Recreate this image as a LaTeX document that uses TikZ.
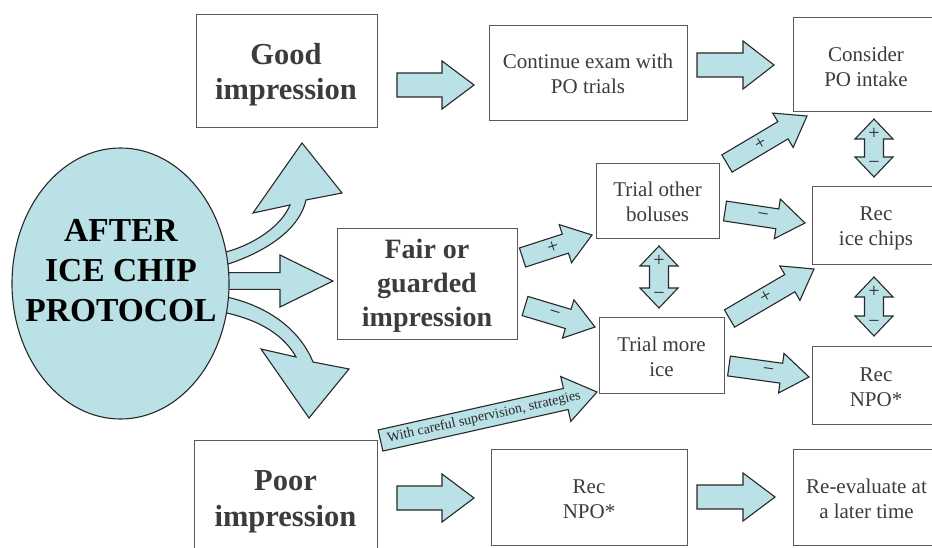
\documentclass[tikz,border=0pt]{standalone}
\usepackage{fontspec}
\setmainfont{Liberation Serif}
\usetikzlibrary{calc,shapes.geometric}
\definecolor{arrfill}{RGB}{186,225,230}
\definecolor{arrline}{RGB}{40,40,40}
\definecolor{boxline}{RGB}{90,90,90}
\definecolor{txt}{RGB}{60,60,60}
\tikzset{
  arr/.style={fill=arrfill, draw=arrline, line width=1.1pt, line join=miter},
  box/.style={draw=boxline, line width=1.3pt, anchor=north west, inner sep=0pt},
  reg/.style={font=\fontsize{21}{25}\selectfont, text=txt, align=center, inner sep=0pt},
  boldtxt/.style={font=\fontsize{30.5}{35}\selectfont\bfseries, text=txt, align=center, inner sep=0pt},
  sign/.style={font=\fontsize{20}{20}\selectfont, text=arrline, inner sep=0pt},
}
\newcommand\blockarr[6]{%
  \coordinate (ba-s) at #1; \coordinate (ba-e) at #2;
  \coordinate (ba-h) at ($(ba-e)!#5!(ba-s)$);
  \draw[arr] ($(ba-s)!#3!90:(ba-e)$) -- ($(ba-h)!#3!90:(ba-e)$) -- ($(ba-h)!#4!90:(ba-e)$) -- (ba-e)
    -- ($(ba-h)!#4!-90:(ba-e)$) -- ($(ba-h)!#3!-90:(ba-e)$) -- ($(ba-s)!#3!-90:(ba-e)$) -- cycle;
  \path (ba-s) -- (ba-e) #6;
}
\newcommand\dblarr[4]{%
  \draw[arr] (#1,#2) -- ++(19,20) -- ++(-9.5,0) -- (#1+9.5,#3-20) -- ++(9.5,0) -- (#1,#3)
    -- ++(-19,-20) -- ++(9.5,0) -- (#1-9.5,#2+20) -- ++(-9.5,0) -- cycle;
  \node[sign] (#4p) at (#1,#2+15) {+};
  \node[sign] (#4m) at (#1,#3-12) {−};
}
\begin{document}
\begin{tikzpicture}[x=1pt,y=-1pt]
\useasboundingbox (0,0) rectangle (932,548);
\clip (0,0) rectangle (932,548);
\fill[white] (0,0) rectangle (932,548);

% boxes
\node[box, minimum width=181pt, minimum height=113pt] (good) at (196,14) {};
\node[box, minimum width=198pt, minimum height=95pt] (cont) at (489,25) {};
\node[box, minimum width=147pt, minimum height=94pt] (cons) at (793,17) {};
\node[box, minimum width=180pt, minimum height=111pt] (fair) at (337,228) {};
\node[box, minimum width=123pt, minimum height=75pt] (tob) at (596,163) {};
\node[box, minimum width=129pt, minimum height=78pt] (ricc) at (812,186) {};
\node[box, minimum width=125pt, minimum height=76pt] (tmi) at (599,317) {};
\node[box, minimum width=129pt, minimum height=78pt] (rnpo) at (812,346) {};
\node[box, minimum width=183pt, minimum height=130pt] (poor) at (194,440) {};
\node[box, minimum width=196pt, minimum height=96pt] (rnpob) at (491,449) {};
\node[box, minimum width=147pt, minimum height=96pt] (reev) at (793,449) {};

% texts
\node[boldtxt] (good-t) at (286,75.5) {\strut Good\\\strut impression};
\node[boldtxt, font=\fontsize{28}{34}\selectfont\bfseries] (fair-t) at (427,285.2) {\strut Fair or\\\strut guarded\\\strut impression};
\node[boldtxt, font=\fontsize{30.5}{36}\selectfont\bfseries] (poor-t) at (285.5,501.3) {\strut Poor\\\strut impression};
\node[reg] (cont-t) at (588,76.5) {\strut Continue exam with\\\strut PO trials};
\node[reg] (cons-t) at (866,69.5) {\strut Consider\\\strut PO intake};
\node[reg] (tob-t) at (657.5,204.5) {\strut Trial other\\\strut boluses};
\node[reg] (ricc-t) at (876,228.5) {\strut Rec\\\strut ice chips};
\node[reg] (tmi-t) at (661.5,358.5) {\strut Trial more\\\strut ice};
\node[reg] (rnpo-t) at (876,388.5) {\strut Rec\\\strut NPO*};
\node[reg] (rnpob-t) at (589,500.5) {\strut Rec\\\strut NPO*};
\node[reg] (reev-t) at (866.5,501) {\strut Re-evaluate at\\\strut a later time};

% straight block arrows
\blockarr{(397,85)}{(474,85)}{12pt}{24pt}{32pt}{}
\blockarr{(697,65)}{(774,65)}{12pt}{24pt}{31pt}{}
\blockarr{(397,498)}{(474,498)}{12pt}{24pt}{32pt}{}
\blockarr{(697,497)}{(775,497)}{12pt}{24pt}{32pt}{}
\blockarr{(222,281)}{(333,281)}{8.3pt}{26pt}{53pt}{}
\blockarr{(522.5,257.5)}{(592,235)}{10pt}{20pt}{28pt}{node[sign, pos=.44, sloped] (l1) {+}}
\blockarr{(525,306)}{(595,327)}{10pt}{20pt}{28pt}{node[sign, pos=.42, sloped] (l2) {−}}
\blockarr{(727,163.5)}{(807,116)}{10pt}{20pt}{28pt}{node[sign, pos=.42, sloped] (l3) {+}}
\blockarr{(725,211)}{(805,223)}{10pt}{20pt}{28pt}{node[sign, pos=.47, sloped] (l4) {−}}
\blockarr{(729.5,318.5)}{(814,269)}{10pt}{20pt}{28pt}{node[sign, pos=.43, sloped] (l5) {+}}
\blockarr{(729,366)}{(809,377)}{10pt}{20pt}{28pt}{node[sign, pos=.49, sloped] (l6) {−}}
\blockarr{(380.5,440.5)}{(597,392)}{10.8pt}{23pt}{32pt}{node[pos=.478, sloped, inner sep=0pt, text=arrline, font=\fontsize{14}{14}\selectfont] (sup) {With careful supervision, strategies}}

% double arrows
\dblarr{659}{246}{308}{d1}
\dblarr{874}{119}{177}{d2}
\dblarr{874}{277}{336}{d3}

% curved arrows from the ellipse
\draw[arr] (222,266) .. controls (268,252) and (300,228) .. (306,200) -- (342,193) -- (302,143) -- (253,213)
  -- (290,205) .. controls (282,225) and (255,245) .. (222,253) -- cycle;
\draw[arr] (222,296) .. controls (268,305) and (300,330) .. (313,362) -- (349,369) -- (309,418) -- (261,349)
  -- (296,357) .. controls (285,337) and (262,320) .. (222,312) -- cycle;

% ellipse
\node[ellipse, draw=arrline, fill=arrfill, line width=1.1pt, minimum width=217pt, minimum height=271pt, inner sep=0pt] (ell) at (120.5,283.5) {};
\node[font=\fontsize{33.5}{40}\selectfont\bfseries, align=center, inner sep=0pt] (ell-t) at (121,273) {\strut AFTER\\\strut ICE CHIP\\\strut PROTOCOL};
\end{tikzpicture}
\end{document}
